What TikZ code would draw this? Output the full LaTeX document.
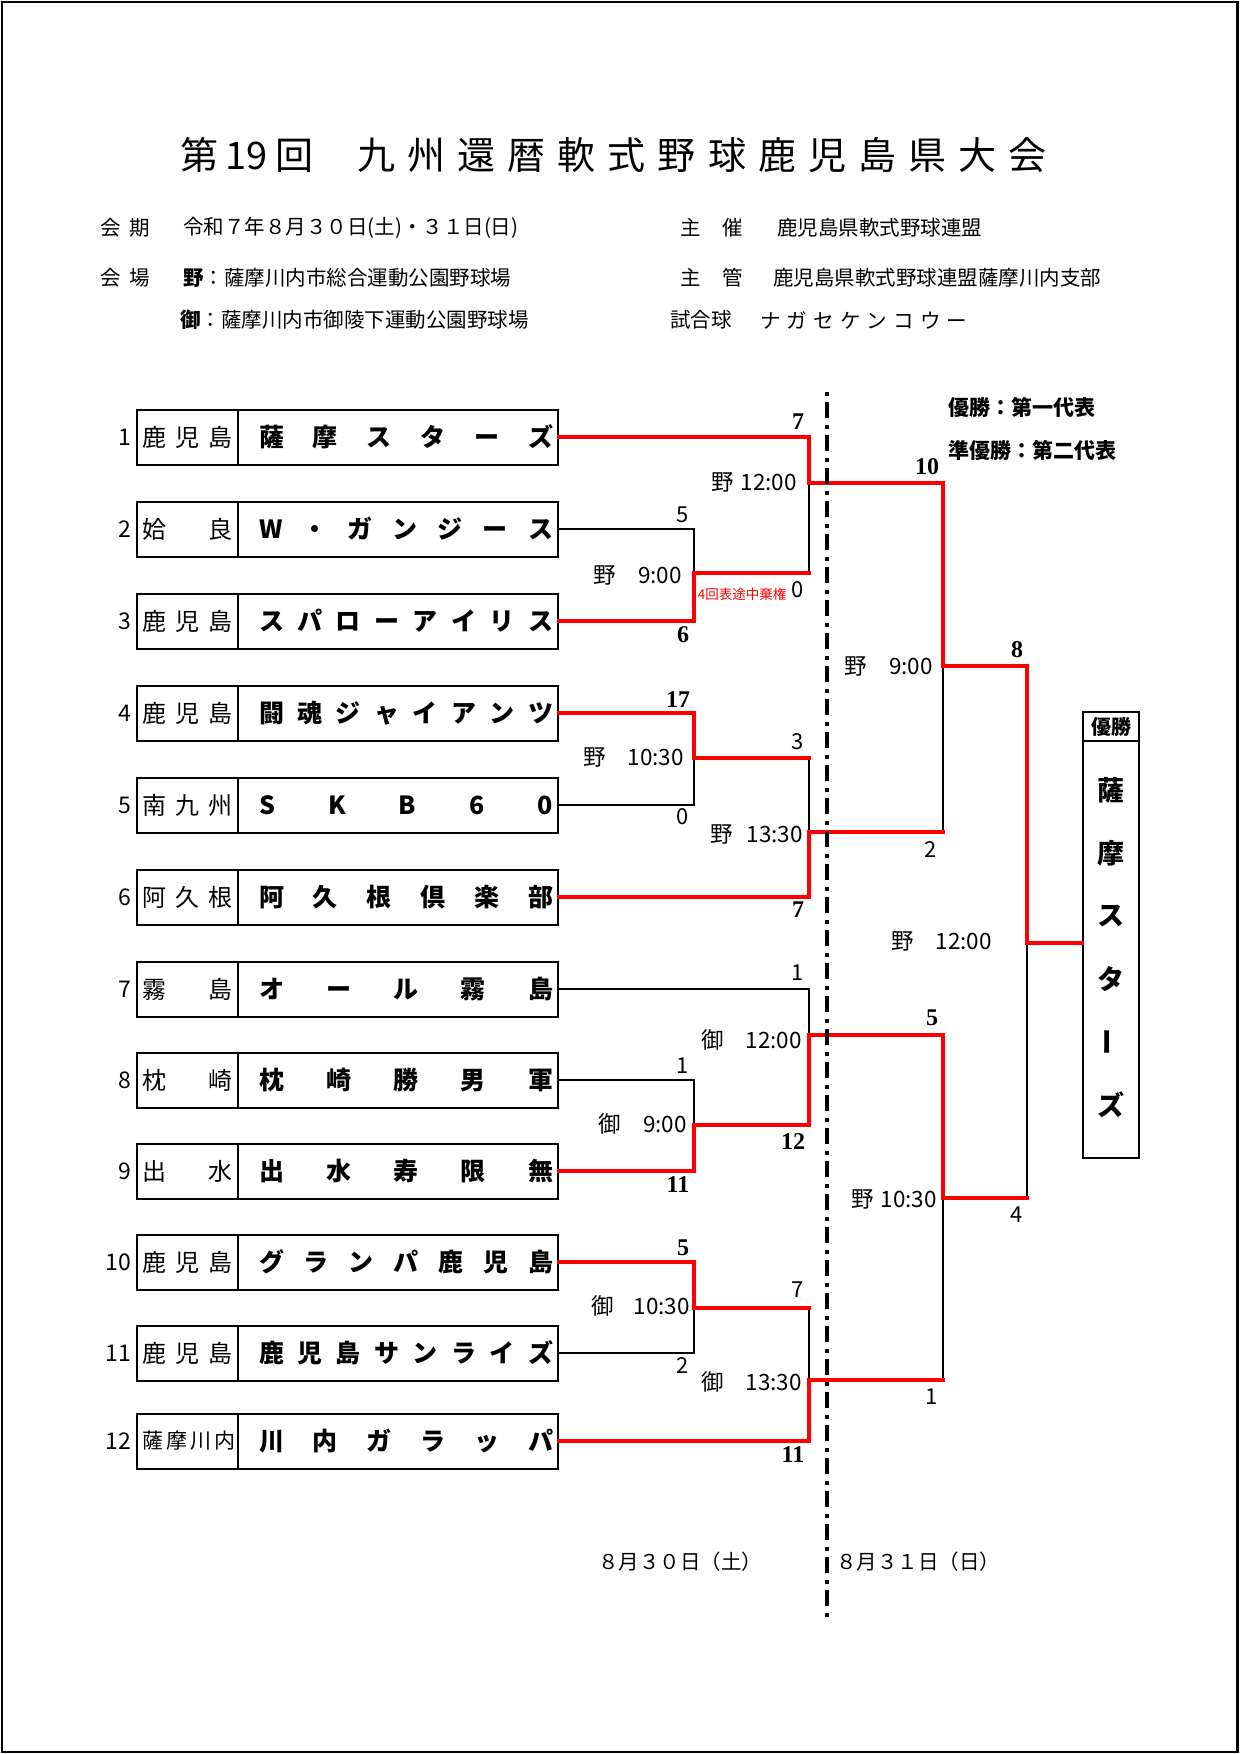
\documentclass[tikz,border=0pt]{standalone}
\usepackage{fontspec}
\setmainfont{Noto Sans CJK JP}
\newfontfamily\scorefont{Liberation Serif}

\begin{document}
\begin{tikzpicture}[x=1pt, y=-1pt,
    box/.style={draw, line width=2pt, inner sep=0pt, minimum height=55pt},
    regbox/.style={box, minimum width=101pt, font=\fontsize{24}{24}\selectfont},
    namebox/.style={box, minimum width=320pt, font=\fontsize{25}{25}\selectfont\bfseries},
    seed/.style={anchor=east, inner sep=0pt, font=\fontsize{23}{23}\selectfont},
    loseline/.style={line width=2pt},
    winline/.style={line width=4pt, red, line cap=rect},
    winscore/.style={inner sep=0pt, font=\fontsize{24}{24}\selectfont\scorefont\bfseries},
    losescore/.style={inner sep=0pt, font=\fontsize{22}{22}\selectfont},
    timelbl/.style={anchor=east, inner sep=0pt, font=\fontsize{22.5}{22.5}\selectfont},
    info/.style={anchor=west, inner sep=0pt, font=\fontsize{20.5}{20.5}\selectfont},
    champchar/.style={inner sep=0pt, font=\fontsize{27}{27}\selectfont\bfseries}]
    \useasboundingbox (0,0) rectangle (1240,1754);
    % Page frame
    \draw[line width=2.5pt] (2,2) rectangle (1237.5,1752);
    % Title
    \node[font=\fontsize{38}{38}\selectfont] (ttl1) at (246.5,155) {\makebox[133pt][s]{第 19 回}};
    \node[font=\fontsize{38}{38}\selectfont] (ttl2) at (702,155) {\makebox[690pt][s]{九 州 還 暦 軟 式 野 球 鹿 児 島 県 大 会}};
    % Info lines
    \node[info] (i1) at (100,228) {\makebox[50pt][s]{会 期}};
    \node[info] (i2) at (183,228) {令和７年８月３０日(土)・３１日(日)};
    \node[info] (i3) at (680,228) {\makebox[63pt][s]{主 催}};
    \node[info] (i4) at (777,228) {鹿児島県軟式野球連盟};
    \node[info] (i5) at (100,278) {\makebox[50pt][s]{会 場}};
    \node[info] (i6) at (183,278) {\textbf{野}：薩摩川内市総合運動公園野球場};
    \node[info] (i7) at (680,278) {\makebox[63pt][s]{主 管}};
    \node[info] (i8) at (773,278) {鹿児島県軟式野球連盟薩摩川内支部};
    \node[info] (i9) at (180,320) {\textbf{御}：薩摩川内市御陵下運動公園野球場};
    \node[info] (i10) at (670,320) {試合球};
    \node[info] (i11) at (760,320) {\makebox[207pt][s]{ナ ガ セ ケ ン コ ウ ー}};
    % Representatives
    \node[info, font=\fontsize{21}{21}\selectfont\bfseries] (rep1) at (948,407) {優勝：第一代表};
    \node[info, font=\fontsize{21}{21}\selectfont\bfseries] (rep2) at (948,450) {準優勝：第二代表};
    % Teams
    \foreach \i/\py/\reg/\team in {1/437/{鹿 児 島}/{薩 摩 ス タ ー ズ},
        2/529/{姶 良}/{W ・ ガ ン ジ ー ス},
        3/621/{鹿 児 島}/{ス パ ロ ー ア イ リ ス},
        4/713/{鹿 児 島}/{闘 魂 ジ ャ イ ア ン ツ},
        5/805/{南 九 州}/{S K B 6 0},
        6/897/{阿 久 根}/{阿 久 根 倶 楽 部},
        7/989/{霧 島}/{オ ー ル 霧 島},
        8/1080/{枕 崎}/{枕 崎 勝 男 軍},
        9/1171/{出 水}/{出 水 寿 限 無},
        10/1262/{鹿 児 島}/{グ ラ ン パ 鹿 児 島},
        11/1353/{鹿 児 島}/{鹿 児 島 サ ン ラ イ ズ},
        12/1441/{\fontsize{21}{21}\selectfont 薩 摩 川 内}/{川 内 ガ ラ ッ パ}} {
      \node[regbox] (r\i) at (187.5,\py) {\makebox[91pt][s]{\reg}};
      \node[namebox] (t\i) at (398,\py) {\hspace*{16pt}\makebox[294pt][s]{\team}};
      \node[seed] (n\i) at (131,\py) {\i};
    }
    % Champion box
    \node[box, minimum width=56pt, minimum height=29pt, font=\fontsize{20}{20}\selectfont\bfseries] (champhd) at (1111,726.5) {優勝};
    \node[box, minimum width=56pt, minimum height=417pt] (champ) at (1111,949.5) {};
    \foreach \c/\r [count=\k] in {薩/0, 摩/0, ス/0, タ/0, ー/90, ズ/0}
      \node[champchar, rotate=\r] (cc\k) at (1111,{790+63*(\k-1)}) {\c};
    % Bracket joints
    \coordinate (mA) at (694,573);
    \coordinate (mB) at (809,483);
    \coordinate (mC) at (694,758);
    \coordinate (mD) at (809,832);
    \coordinate (mE) at (809,1035);
    \coordinate (mF) at (694,1125);
    \coordinate (mG) at (694,1308);
    \coordinate (mH) at (809,1380);
    \coordinate (sA) at (943,666);
    \coordinate (sB) at (943,1198);
    \coordinate (fin) at (1027,943);
    % Losing lines
    \draw[loseline] (t2.east) -| (mA);
    \draw[loseline] (mA -| mB) -- (mB);
    \draw[loseline] (t5.east) -| (mC);
    \draw[loseline] (mC -| mD) -- (mD);
    \draw[loseline] (mD -| sA) -- (sA);
    \draw[loseline] (t7.east) -| (mE);
    \draw[loseline] (t8.east) -| (mF);
    \draw[loseline] (t11.east) -| (mG);
    \draw[loseline] (mG -| mH) -- (mH);
    \draw[loseline] (mH -| sB) -- (sB);
    \draw[loseline] (sB -| fin) -- (fin);
    % Winning lines
    \draw[winline] (t1.east) -| (mB) -- (mB -| sA) -- (sA) -- (sA -| fin) -- (fin) -- (fin -| champ.west);
    \draw[winline] (t3.east) -| (mA) -- (mA -| mB);
    \draw[winline] (t4.east) -| (mC) -- (mC -| mD);
    \draw[winline] (t6.east) -| (mD) -- (mD -| sA);
    \draw[winline] (t9.east) -| (mF) -- (mF -| mE) -- (mE) -- (mE -| sB) -- (sB) -- (sB -| fin);
    \draw[winline] (t10.east) -| (mG) -- (mG -| mH);
    \draw[winline] (t12.east) -| (mH) -- (mH -| sB);
    % Scores
    \foreach \px/\py/\s [count=\k] in {798/422/7, 683/635/6, 678/700/17, 798/910/7, 927/467/10, 1017/650/8,
        793/1142/12, 678/1185/11, 683/1248/5, 793/1455/11, 932/1018/5}
      \node[winscore] (w\k) at (\px,\py) {\s};
    \foreach \px/\py/\s [count=\k] in {683/515/5, 798/590/0, 683/817/0, 798/742/3, 931/850/2, 1017/1215/4,
        798/973/1, 683/1066/1, 683/1365/2, 798/1290/7, 932/1397/1}
      \node[losescore] (l\k) at (\px,\py) {\s};
    \node[inner sep=0pt, text=red, font=\fontsize{13.5}{13.5}\selectfont] (note) at (742,594) {4回表途中棄権};
    % Venues and times
    \foreach \px/\py/\site/\gap/\hour [count=\k] in {682/575/野/22/9:00, 797/482/野/7/12:00,
        684/757/野/22/10:30, 803/834/野/14/13:30, 802/1040/御/22/12:00, 687/1124/御/22/9:00,
        690/1306/御/20/10:30, 802/1382/御/22/13:30, 933/666/野/22/9:00, 937/1199/野/7/10:30,
        992/941/野/22/12:00}
      \node[timelbl] (g\k) at (\px,\py) {\site\hspace{\gap pt}\hour};
    % Day divider
    \draw[line width=4pt, dash pattern=on 4pt off 6pt on 16pt off 7pt] (826.5,392) -- (826.5,1617);
    \node[font=\fontsize{20.5}{20.5}\selectfont] (day1) at (680,1562) {８月３０日（土）};
    \node[font=\fontsize{20.5}{20.5}\selectfont] (day2) at (918,1562) {８月３１日（日）};
\end{tikzpicture}
\end{document}
